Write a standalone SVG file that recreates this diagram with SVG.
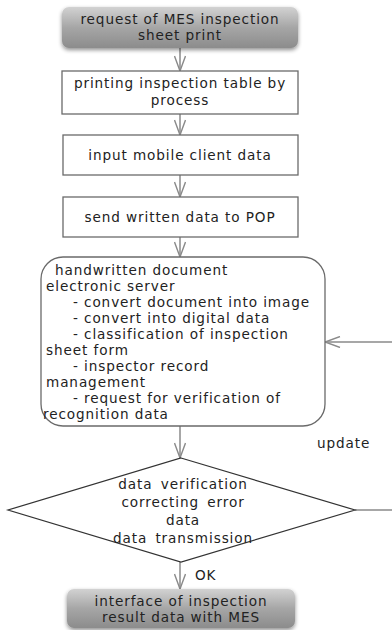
<svg xmlns="http://www.w3.org/2000/svg" width="392" height="630" viewBox="0 0 392 630">
  <defs>
    <linearGradient id="grayFill" x1="0" y1="0" x2="0" y2="1">
      <stop offset="0" stop-color="#d2d2d2"/>
      <stop offset="0.5" stop-color="#a6a6a6"/>
      <stop offset="1" stop-color="#8c8c8c"/>
    </linearGradient>
    <filter id="softShadow" x="-10%" y="-20%" width="120%" height="160%">
      <feGaussianBlur in="SourceAlpha" stdDeviation="2"/>
      <feOffset dx="0" dy="2" result="b"/>
      <feComponentTransfer><feFuncA type="linear" slope="0.45"/></feComponentTransfer>
      <feMerge><feMergeNode/><feMergeNode in="SourceGraphic"/></feMerge>
    </filter>
    <marker id="openArrow" markerWidth="18" markerHeight="12" refX="16" refY="6" orient="auto" markerUnits="userSpaceOnUse">
      <path d="M1,0.5 L16,6 L1,11.5" fill="none" stroke="#8a8a8a" stroke-width="1.4"/>
    </marker>
  </defs>
  <style>
    text { font-family: "DejaVu Sans", "Noto Sans", sans-serif; font-size: 13.6px; letter-spacing: 0.9px; fill: #222; }
    .c { text-anchor: middle; }
    .box { fill: #fff; stroke: #6a6a6a; stroke-width: 1.3; }
    .term { fill: url(#grayFill); stroke: none; filter: url(#softShadow); }
    .edge { fill: none; stroke: #8a8a8a; stroke-width: 1.5; }
    .dia { word-spacing: 3px; }
  </style>

  <rect width="392" height="630" fill="#fff"/>

  <g id="connectors">
    <line class="edge" x1="180" y1="48" x2="180" y2="71" marker-end="url(#openArrow)"/>
    <line class="edge" x1="180" y1="114" x2="180" y2="135" marker-end="url(#openArrow)"/>
    <line class="edge" x1="180" y1="175" x2="180" y2="197" marker-end="url(#openArrow)"/>
    <line class="edge" x1="180" y1="237" x2="180" y2="257" marker-end="url(#openArrow)"/>
    <line class="edge" x1="180" y1="426" x2="180" y2="458" marker-end="url(#openArrow)"/>
    <line class="edge" x1="180" y1="562" x2="180" y2="589" marker-end="url(#openArrow)"/>
    <line class="edge" x1="355" y1="510" x2="392" y2="510"/>
    <line class="edge" x1="392" y1="342" x2="325" y2="342" marker-end="url(#openArrow)"/>
    <text x="317" y="448">update</text>
    <text x="195" y="580">OK</text>
  </g>

  <g id="request-print">
    <rect class="term" x="62" y="7" width="236" height="41" rx="7"/>
    <text class="c" x="180" y="24">request of MES inspection</text>
    <text class="c" x="180" y="40">sheet print</text>
  </g>

  <g id="print-table">
    <rect class="box" x="62" y="71" width="236" height="43"/>
    <text class="c" x="180" y="88">printing inspection table by</text>
    <text class="c" x="180" y="105">process</text>
  </g>

  <g id="mobile-input">
    <rect class="box" x="63" y="135" width="235" height="40"/>
    <text class="c" x="180" y="160">input mobile client data</text>
  </g>

  <g id="send-pop">
    <rect class="box" x="63" y="197" width="235" height="40"/>
    <text class="c" x="180" y="222">send written data to POP</text>
  </g>

  <g id="doc-server">
    <rect class="box" x="41" y="257" width="284" height="169" rx="22"/>
    <text x="55" y="275">handwritten document</text>
    <text x="46" y="291">electronic server</text>
    <text x="73" y="307">- convert document into image</text>
    <text x="73" y="323">- convert into digital data</text>
    <text x="73" y="339">- classification of inspection</text>
    <text x="46" y="355">sheet form</text>
    <text x="73" y="371">- inspector record</text>
    <text x="46" y="387">management</text>
    <text x="73" y="403">- request for verification of</text>
    <text x="43" y="419">recognition data</text>
  </g>

  <g id="verify">
    <polygon points="181,458 355,510 181,562 8,510" fill="#fff" stroke="#333" stroke-width="1.2"/>
    <text class="c dia" x="183" y="489">data verification</text>
    <text class="c dia" x="183" y="507">correcting error</text>
    <text class="c dia" x="183" y="525">data</text>
    <text class="c dia" x="183" y="543">data transmission</text>
  </g>

  <g id="mes-interface">
    <rect class="term" x="67" y="589" width="228" height="39" rx="7"/>
    <text class="c" x="181" y="606">interface of inspection</text>
    <text class="c" x="181" y="622">result data with MES</text>
  </g>
</svg>
